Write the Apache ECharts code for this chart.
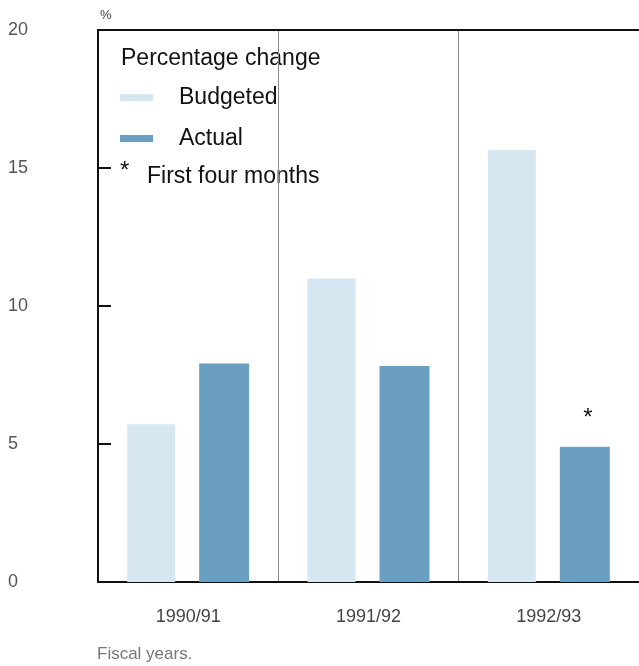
<!DOCTYPE html>
<html>
<head>
<meta charset="utf-8">
<script src="https://cdn.jsdelivr.net/npm/echarts@6/dist/echarts.min.js"></script>
<style>html,body{margin:0;padding:0;background:#fff}#c{width:639px;height:666px}</style>
</head>
<body>
<div id="c"></div>
<script>
var categories = ['1990/91', '1991/92', '1992/93'];
var budgeted = [5.72, 11.0, 15.65];
var actual = [7.92, 7.83, 4.9];
var yTicks = [0, 5, 10, 15, 20];
var actualNotes = ['', '', '*'];

var chart = echarts.init(document.getElementById('c'), null, {renderer: 'canvas'});
var F = '"Liberation Sans", Arial, sans-serif';
chart.setOption({
  animation: false,
  backgroundColor: '#fff',
  grid: {left: 98, right: 0, top: 30, bottom: 84, containLabel: false},
  legend: {
    orient: 'vertical', left: 115, top: 81, itemGap: 18,
    itemWidth: 33, itemHeight: 7, icon: 'rect',
    data: ['Budgeted', 'Actual'],
    textStyle: {fontFamily: F, fontSize: 23, color: '#111', lineHeight: 23, padding: [0, 0, 0, 21]}
  },
  xAxis: [{
    type: 'category', data: categories, position: 'bottom',
    axisLine: {show: true, lineStyle: {color: '#111', width: 2}},
    axisTick: {show: false},
    axisLabel: {fontFamily: F, fontSize: 18, color: '#444', margin: 26},
    splitLine: {show: true, lineStyle: {color: '#8a8a8a', width: 1}}
  }, {
    type: 'category', data: categories, position: 'top',
    axisLine: {show: true, lineStyle: {color: '#111', width: 2}},
    axisTick: {show: false}, axisLabel: {show: false}, splitLine: {show: false}
  }],
  yAxis: {
    type: 'value', min: 0, max: 20, interval: 5,
    axisLine: {show: true, lineStyle: {color: '#111', width: 2}},
    axisTick: {show: true, inside: true, length: 13, lineStyle: {color: '#111', width: 2}},
    axisLabel: {fontFamily: F, fontSize: 18, color: '#555', align: 'left', margin: 90,
      padding: [5, 0, 0, 0],
      formatter: function (v) { return yTicks.indexOf(v) >= 0 ? String(v) : ''; }},
    splitLine: {show: false}
  },
  series: [{
    name: 'Budgeted', type: 'bar', data: budgeted, barWidth: 48, barGap: '50%',
    itemStyle: {color: '#d6e7f2'}
  }, {
    name: 'Actual', type: 'bar', data: actual.map(function (v, i) {
      return {value: v, label: {show: actualNotes[i] !== '', formatter: actualNotes[i]}};
    }), barWidth: 50,
    itemStyle: {color: '#6a9fc2'},
    label: {position: 'top', distance: 16, fontFamily: F, fontSize: 24, color: '#111', offset: [3, 0]}
  }],
  graphic: [
    {type: 'text', left: 100, top: 9, style: {text: '%', font: '13px ' + F, fill: '#444'}},
    {type: 'text', left: 121, top: 47, style: {text: 'Percentage change', font: '23px ' + F, fill: '#111'}},
    {type: 'text', left: 120, top: 159, style: {text: '*', font: '24px ' + F, fill: '#111'}},
    {type: 'text', left: 147, top: 165, style: {text: 'First four months', font: '23px ' + F, fill: '#111'}},
    {type: 'text', left: 97, top: 646, style: {text: 'Fiscal years.', font: '17px ' + F, fill: '#777'}}
  ]
});
</script>
</body>
</html>
